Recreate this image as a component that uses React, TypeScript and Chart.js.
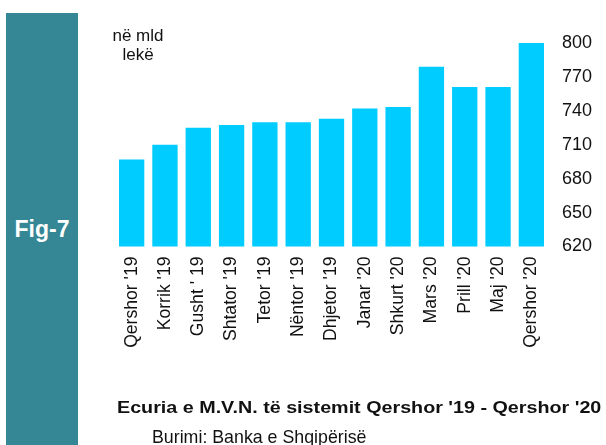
import React, { useEffect, useRef } from "react";
import { Chart, registerables } from "chart.js";

Chart.register(...registerables);

const categories = [
  "Qershor '19", "Korrik '19", "Gusht ' 19", "Shtator '19", "Tetor '19", "Nëntor '19",
  "Dhjetor '19", "Janar '20", "Shkurt '20", "Mars '20", "Prill '20", "Maj '20", "Qershor '20",
];
const values = [697, 710, 725, 727.5, 730, 730, 733, 742, 743.5, 779, 761, 761, 800];
const yMin = 620;
const yMax = 800;
const yStep = 30;

const FONT = "'Liberation Sans', Arial, sans-serif";

export default function App() {
  const ref = useRef<HTMLCanvasElement | null>(null);
  useEffect(() => {
    if (!ref.current) return;
    const chart = new Chart(ref.current, {
      type: "bar",
      data: {
        labels: categories,
        datasets: [
          {
            data: values,
            backgroundColor: "#00CCFF",
            borderWidth: 0,
            categoryPercentage: 1,
            barPercentage: 0.76,
          },
        ],
      },
      options: {
        responsive: false,
        animation: false,
        layout: { padding: { left: 115, top: 43, right: 0, bottom: 0 } },
        plugins: { legend: { display: false }, tooltip: { enabled: false } },
        scales: {
          x: {
            grid: { display: false, drawTicks: false },
            border: { display: false },
            ticks: {
              color: "#111",
              font: { family: FONT, size: 17.6 },
              minRotation: 90,
              maxRotation: 90,
              padding: 10,
              autoSkip: false,
            },
            afterFit: (s: any) => {
              s.height = 445 - 246.5;
            },
          },
          y: {
            position: "right",
            min: yMin,
            max: yMax,
            grid: { display: false, drawTicks: false },
            border: { display: false },
            ticks: {
              stepSize: yStep,
              color: "#111",
              font: { family: FONT, size: 18 },
              padding: 14,
            },
            afterFit: (s: any) => {
              s.width = 58;
            },
          },
        },
      },
    });
    return () => chart.destroy();
  }, []);

  return (
    <div style={{ position: "absolute", left: 0, top: 0, width: 606, height: 445, background: "#fff", overflow: "hidden", fontFamily: FONT }}>
      <div style={{ position: "absolute", left: 6, top: 13, width: 72, height: 432, background: "#358796" }} />
      <div style={{ position: "absolute", left: 6, width: 72, top: 216, textAlign: "center", color: "#fff", fontWeight: "bold", fontSize: 23, lineHeight: "26px" }}>Fig-7</div>
      <canvas ref={ref} width={606} height={445} style={{ position: "absolute", left: 0, top: 0, width: 606, height: 445 }} />
      <div style={{ position: "absolute", left: 98, width: 80, top: 26, textAlign: "center", color: "#111", fontSize: 17, lineHeight: "19px" }}>
        në mld<br />lekë
      </div>
      <div style={{ position: "absolute", left: 117, top: 398, color: "#111", fontSize: 17, fontWeight: "bold", whiteSpace: "nowrap", lineHeight: "20px", transform: "scaleX(1.16)", transformOrigin: "0 0" }}>
        Ecuria e M.V.N. të sistemit Qershor '19 - Qershor '20
      </div>
      <div style={{ position: "absolute", left: 152, top: 427, color: "#111", fontSize: 17.8, whiteSpace: "nowrap", lineHeight: "20px" }}>
        Burimi: Banka e Shqipërisë
      </div>
    </div>
  );
}
